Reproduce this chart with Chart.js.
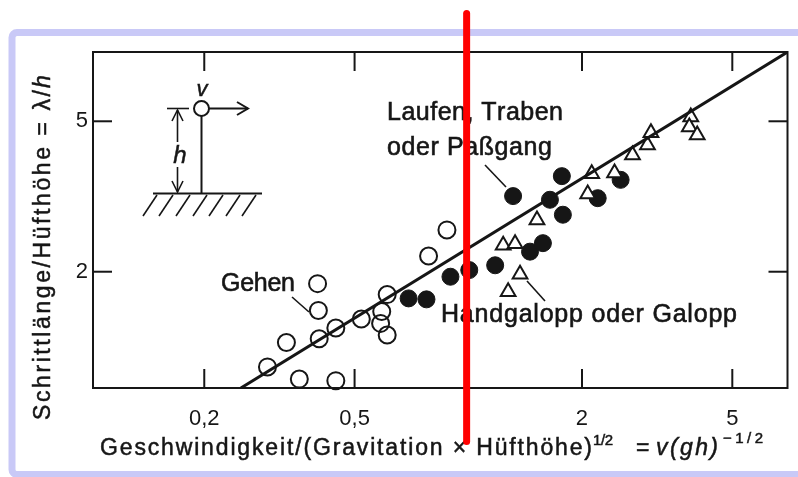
<!DOCTYPE html>
<html>
<head>
<meta charset="utf-8">
<script src="https://cdn.jsdelivr.net/npm/chart.js@4.4.0/dist/chart.umd.min.js"></script>
<style>
  html, body { margin: 0; padding: 0; background: #fff; }
  #chart { display: block; }
</style>
</head>
<body>
<canvas id="chart" width="798" height="477"></canvas>
<script>
// Gehen (offene Kreise)
const walkX = [0.294, 0.330, 0.357, 0.399, 0.401, 0.403, 0.446, 0.446, 0.521, 0.590, 0.610, 0.586, 0.610, 0.785, 0.878];
const walkY = [1.12, 1.30, 1.04, 1.86, 1.58, 1.33, 1.42, 1.03, 1.50, 1.57, 1.74, 1.46, 1.36, 2.20, 2.58];

// Laufen, Traben oder Paßgang (gefüllte Kreise)
const runX = [0.695, 0.775, 0.897, 1.006, 1.178, 1.457, 1.576, 1.314, 1.645, 1.769, 1.780, 2.201, 2.531];
const runY = [1.70, 1.69, 1.94, 2.02, 2.08, 2.26, 2.38, 3.17, 3.10, 3.58, 2.83, 3.13, 3.50];

// Handgalopp oder Galopp (Dreiecke)
const gallopX = [1.237, 1.330, 1.371, 1.275, 1.520, 2.122, 2.071, 2.439, 2.721, 2.981, 3.045, 3.882, 3.847, 4.037];
const gallopY = [2.35, 2.37, 1.97, 1.77, 2.74, 3.63, 3.21, 3.65, 4.07, 4.33, 4.66, 5.13, 4.83, 4.60];

// Ausgleichsgerade
const fitX = [0.25, 7.0];
const fitY = [0.985, 7.625];

const xTicks = [0.2, 0.5, 2, 5];
const yTicks = [2, 5];
const xRange = [0.1015, 7.0];
const yRange = [0.985, 7.625];
const markerX = 0.99;

const ink = '#161616';
const face = "'Liberation Sans', Arial, sans-serif";

function toPoints(xs, ys){
	return xs.map((x, i) => ({x: x, y: ys[i]}));
}

// draws text char by char so it fills a given width (the scan is widely tracked)
function spaced(ctx, text, font, x, y, width){
	ctx.font = font;
	const chars = [...text];
	let natural = 0;
	chars.forEach(ch => natural += ctx.measureText(ch).width);
	const gap = chars.length > 1 ? (width - natural) / (chars.length - 1) : 0;
	let cx = x;
	chars.forEach(ch => {
		ctx.fillText(ch, cx, y);
		ctx.strokeText(ch, cx, y);
		cx += ctx.measureText(ch).width + gap;
	});
	return cx - gap;
}

function seg(ctx, pts){
	ctx.beginPath();
	ctx.moveTo(pts[0][0], pts[0][1]);
	for(let i = 1; i < pts.length; i++){
		ctx.lineTo(pts[i][0], pts[i][1]);
	}
	ctx.stroke();
}

function drawInset(ctx){
	ctx.save();
	ctx.strokeStyle = ink;
	ctx.fillStyle = ink;
	ctx.lineWidth = 2;

	// Boden mit Schraffur
	seg(ctx, [[153, 193.5], [262, 193.5]]);
	ctx.lineWidth = 1.6;
	[157, 173, 190, 207, 223, 240, 256].forEach(xt => seg(ctx, [[xt, 195], [xt - 14, 216]]));

	// Bein und Hüfte
	ctx.lineWidth = 2;
	seg(ctx, [[201.5, 116], [201.5, 193.5]]);
	ctx.beginPath();
	ctx.arc(201.5, 108.5, 7.5, 0, Math.PI * 2);
	ctx.stroke();

	// Geschwindigkeitspfeil
	seg(ctx, [[209, 108.5], [248, 108.5]]);
	seg(ctx, [[237, 102], [248, 108.5], [237, 115]]);

	// Höhenmaß
	ctx.lineWidth = 1.6;
	seg(ctx, [[167, 108.5], [189, 108.5]]);
	seg(ctx, [[177.5, 110], [177.5, 142]]);
	seg(ctx, [[177.5, 167], [177.5, 192]]);
	seg(ctx, [[172, 121], [177.5, 110], [183, 121]]);
	seg(ctx, [[172, 181], [177.5, 192], [183, 181]]);

	ctx.textAlign = 'center';
	ctx.textBaseline = 'alphabetic';
	ctx.lineWidth = 0.5;
	ctx.font = 'italic 22px ' + face;
	ctx.fillText('v', 202, 96);
	ctx.strokeText('v', 202, 96);
	ctx.font = 'italic 24px ' + face;
	ctx.fillText('h', 180, 163);
	ctx.strokeText('h', 180, 163);
	ctx.restore();
}

const decor = {
	id: 'decor',
	beforeDraw(chart){
		const ctx = chart.ctx;
		ctx.save();
		ctx.strokeStyle = '#c9c9f7';
		ctx.lineWidth = 7;
		ctx.beginPath();
		ctx.roundRect(12, 32.5, 800, 442, 5);
		ctx.stroke();
		ctx.restore();
	},
	beforeDatasetsDraw(chart){
		const ctx = chart.ctx;
		const a = chart.chartArea;
		const x = chart.scales.x;
		const y = chart.scales.y;
		const tl = 19;

		ctx.save();
		ctx.strokeStyle = ink;
		ctx.lineWidth = 2;
		ctx.strokeRect(a.left, a.top, a.right - a.left, a.bottom - a.top);

		xTicks.forEach(v => {
			const px = x.getPixelForValue(v);
			seg(ctx, [[px, a.bottom], [px, a.bottom - tl]]);
			seg(ctx, [[px, a.top], [px, a.top + tl]]);
		});
		yTicks.forEach(v => {
			const py = y.getPixelForValue(v);
			seg(ctx, [[a.left, py], [a.left + tl, py]]);
			seg(ctx, [[a.right, py], [a.right - tl, py]]);
		});

		drawInset(ctx);

		// Beschriftungen der Gruppen
		ctx.fillStyle = ink;
		ctx.textAlign = 'left';
		ctx.textBaseline = 'alphabetic';
		ctx.lineWidth = 0.6;
		const f = '25px ' + face;
		spaced(ctx, 'Laufen, Traben', f, 387, 120, 176);
		spaced(ctx, 'oder Paßgang', f, 387, 155, 165);
		spaced(ctx, 'Gehen', f, 221, 291, 74);
		spaced(ctx, 'Handgalopp oder Galopp', f, 441, 322, 296);

		ctx.lineWidth = 1.6;
		seg(ctx, [[485, 165], [506, 187]]);
		seg(ctx, [[292, 297], [309, 312]]);
		seg(ctx, [[527, 281], [545, 301]]);

		// x-Achsentitel
		ctx.lineWidth = 0.5;
		const big = '23px ' + face;
		const small = '15px ' + face;
		spaced(ctx, 'Geschwindigkeit/(Gravitation × Hüfthöhe)', big, 100, 455, 492);
		spaced(ctx, '1/2', small, 593, 445, 20);
		spaced(ctx, '=', big, 636, 455, 13);
		spaced(ctx, 'v(gh)', 'italic ' + big, 656, 455, 62);
		spaced(ctx, '−1/2', small, 723, 443, 40);

		// y-Achsentitel
		ctx.translate(50, 420);
		ctx.rotate(-Math.PI / 2);
		const end = spaced(ctx, 'Schrittlänge/Hüfthöhe = λ/', big, 0, 0, 330);
		ctx.font = 'italic ' + big;
		ctx.fillText('h', end + 2, 0);
		ctx.strokeText('h', end + 2, 0);
		ctx.restore();
	},
	afterDraw(chart){
		const ctx = chart.ctx;
		const px = chart.scales.x.getPixelForValue(markerX);
		ctx.save();
		ctx.strokeStyle = '#ff0000';
		ctx.lineWidth = 7;
		ctx.lineCap = 'round';
		seg(ctx, [[px, 13.5], [px, 441.5]]);
		ctx.restore();
	}
};

const tickFont = {family: face, size: 22};

new Chart(document.getElementById('chart'), {
	type: 'scatter',
	data: {
		datasets: [
			{
				label: 'Ausgleichsgerade',
				data: toPoints(fitX, fitY),
				showLine: true,
				borderColor: ink,
				borderWidth: 3,
				pointRadius: 0,
				order: 0,
			},
			{
				label: 'Handgalopp oder Galopp',
				data: toPoints(gallopX, gallopY),
				pointStyle: 'triangle',
				pointRadius: 8.5,
				backgroundColor: '#fff',
				borderColor: ink,
				borderWidth: 2,
				clip: false,
				order: 1,
			},
			{
				label: 'Gehen',
				data: toPoints(walkX, walkY),
				pointStyle: 'circle',
				pointRadius: 8.5,
				backgroundColor: 'rgba(255,255,255,0)',
				borderColor: ink,
				borderWidth: 2,
				clip: false,
				order: 2,
			},
			{
				label: 'Laufen, Traben oder Paßgang',
				data: toPoints(runX, runY),
				pointStyle: 'circle',
				pointRadius: 8.5,
				backgroundColor: ink,
				borderColor: ink,
				borderWidth: 1,
				clip: false,
				order: 3,
			},
		]
	},
	options: {
		responsive: false,
		animation: false,
		devicePixelRatio: 1,
		layout: {padding: {top: 52, right: 8, left: 0, bottom: 0}},
		plugins: {
			legend: {display: false},
			tooltip: {enabled: false},
		},
		scales: {
			x: {
				type: 'logarithmic',
				min: xRange[0],
				max: xRange[1],
				afterFit(s){ s.height = 89; },
				afterBuildTicks(s){ s.ticks = xTicks.map(v => ({value: v})); },
				grid: {display: false, drawTicks: false},
				border: {display: true, color: ink, width: 2},
				ticks: {
					font: tickFont,
					color: ink,
					padding: 18,
					maxRotation: 0,
					autoSkip: false,
					callback: v => String(v).replace('.', ','),
				},
			},
			y: {
				type: 'logarithmic',
				min: yRange[0],
				max: yRange[1],
				afterFit(s){ s.width = 93; },
				afterBuildTicks(s){ s.ticks = yTicks.map(v => ({value: v})); },
				grid: {display: false, drawTicks: false},
				border: {display: true, color: ink, width: 2},
				ticks: {
					font: tickFont,
					color: ink,
					padding: 5,
					autoSkip: false,
					callback: v => String(v).replace('.', ','),
				},
			},
		}
	},
	plugins: [decor]
});
</script>
</body>
</html>
